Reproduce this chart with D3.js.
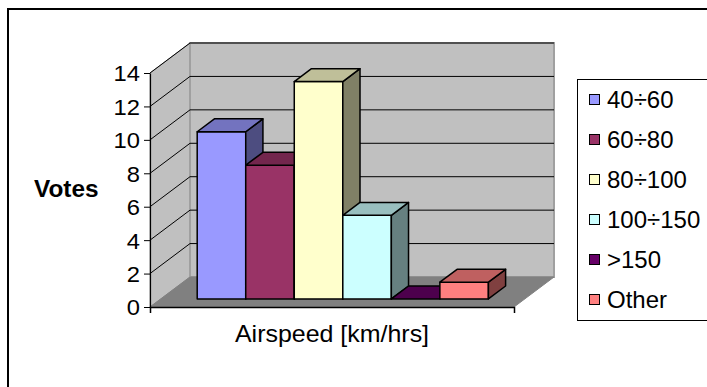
<!DOCTYPE html>
<html>
<head>
<meta charset="utf-8">
<script src="https://cdn.jsdelivr.net/npm/d3@7/dist/d3.min.js"></script>
<style>
  html, body { margin: 0; padding: 0; background: #fff; }
  svg { display: block; }
  text { font-family: "Liberation Sans", Arial, sans-serif; fill: #000; }
</style>
</head>
<body>
<div id="chart"></div>
<script>
// Airspeed poll: votes per speed range
const categories = ["Airspeed [km/hrs]"];
const seriesNames = ["40÷60", "60÷80", "80÷100", "100÷150", ">150", "Other"];
const seriesValues = [10, 8, 13, 5, 0, 1];
const seriesColors = ["#9999FF", "#993366", "#FFFFCC", "#CCFFFF", "#660066", "#FF8080"];
const yTicks = [0, 2, 4, 6, 8, 10, 12, 14];
const yTitle = "Votes";

const W = 707, H = 387;
const DX = 40, DY = -30;       // full depth of the 3D box
const T_FRONT = 0.27, T_BACK = 0.70; // bar slab within the depth

const svg = d3.select("#chart").append("svg")
  .attr("width", W).attr("height", H);

svg.append("rect").attr("width", W).attr("height", H).attr("fill", "#fff");

// chart area frame
svg.append("rect")
  .attr("x", 8).attr("y", 9).attr("width", 900).attr("height", 600)
  .attr("fill", "none").attr("stroke", "#000").attr("stroke-width", 2);

// scales on the front plane
const x0 = 150, x1 = 514;
const y = d3.scaleLinear().domain([0, 14]).range([307, 73]);
const xCat = d3.scaleBand().domain(categories).range([x0, x1]);
const xBar = d3.scaleBand().domain(seriesNames).range([x0, x1])
  .paddingInner(0).paddingOuter(0.75);

// project a front-plane point back into depth t (0 = front, 1 = back wall)
const P = (px, py, t) => [px + DX * t, py + DY * t];
const poly = pts => "M" + pts.map(p => p.join(",")).join("L") + "Z";

const y0 = y(0), yTop = y(14);

// walls and floor
const walls = svg.append("g");
walls.append("path")
  .attr("d", poly([P(x0, y0, 0), P(x0, yTop, 0), P(x0, yTop, 1), P(x0, y0, 1)]))
  .attr("fill", "#C0C0C0").attr("stroke", "#909090").attr("stroke-width", 1);
walls.append("path")
  .attr("d", poly([P(x0, yTop, 1), P(x1, yTop, 1), P(x1, y0, 1), P(x0, y0, 1)]))
  .attr("fill", "#C0C0C0").attr("stroke", "#A0A0A0").attr("stroke-width", 2);
walls.append("path")
  .attr("d", poly([P(x0, y0, 0), P(x1, y0, 0), P(x1, y0, 1), P(x0, y0, 1)]))
  .attr("fill", "#808080").attr("stroke", "#808080").attr("stroke-width", 1);

// gridlines on side and back walls
const grid = svg.append("g").attr("stroke", "#000").attr("stroke-width", 1).attr("fill", "none");
yTicks.filter(v => v > 0).forEach(v => {
  const a = P(x0, y(v), 0), b = P(x0, y(v), 1), c = P(x1, y(v), 1);
  grid.append("path").attr("d", "M" + a + "L" + b + "L" + c);
});

// value axis
const TICK_SX = 1.08;
const yAxis = svg.append("g")
  .attr("transform", `translate(${x0},0)`)
  .call(d3.axisLeft(y).tickValues(yTicks).tickSize(6).tickSizeOuter(0).tickPadding(4));
yAxis.select(".domain").attr("stroke", "#000").attr("stroke-width", 1.2);
yAxis.selectAll(".tick line").attr("stroke", "#000");
yAxis.selectAll(".tick text")
  .attr("x", -10 / TICK_SX).attr("dy", "0.36em")
  .attr("transform", `scale(${TICK_SX},1)`)
  .style("font-family", "'Liberation Sans', Arial, sans-serif")
  .style("font-size", "22px").attr("fill", "#000");

// category axis with boundary ticks
const xAxis = svg.append("g")
  .attr("transform", `translate(0,${y0})`)
  .call(d3.axisBottom(xCat).tickSize(0).tickSizeOuter(6));
xAxis.select(".domain").attr("stroke", "#000").attr("stroke-width", 1.5);
xAxis.selectAll(".tick text")
  .attr("x", 0).attr("y", 0).attr("dy", 0)
  .attr("text-anchor", "middle")
  .attr("transform", "translate(0,35) scale(1.04,1)")
  .style("font-family", "'Liberation Sans', Arial, sans-serif")
  .style("font-size", "24px").attr("fill", "#000");

// bars: front, top and right side faces, drawn left to right
const shade = (c, k) => {
  const r = d3.rgb(c);
  return d3.rgb(r.r * k, r.g * k, r.b * k).formatHex();
};
const bars = svg.append("g")
  .attr("stroke", "#000").attr("stroke-width", 1.5).attr("stroke-linejoin", "round");
seriesNames.forEach((name, i) => {
  const v = seriesValues[i], col = seriesColors[i];
  const xl = xBar(name), xr = xl + xBar.bandwidth();
  const yb = y(0), yt = y(v);
  const g = bars.append("g");
  if (v > 0) {
    g.append("path")
      .attr("d", poly([P(xl, yb, T_FRONT), P(xr, yb, T_FRONT), P(xr, yt, T_FRONT), P(xl, yt, T_FRONT)]))
      .attr("fill", col);
    g.append("path")
      .attr("d", poly([P(xr, yb, T_FRONT), P(xr, yt, T_FRONT), P(xr, yt, T_BACK), P(xr, yb, T_BACK)]))
      .attr("fill", shade(col, 0.5));
  }
  g.append("path")
    .attr("d", poly([P(xl, yt, T_FRONT), P(xr, yt, T_FRONT), P(xr, yt, T_BACK), P(xl, yt, T_BACK)]))
    .attr("fill", shade(col, 0.75));
});

// value axis title
svg.append("text")
  .attr("transform", "translate(34,197) scale(1.06,1)")
  .style("font-size", "23px").style("font-weight", "bold")
  .text(yTitle);

// legend
const legend = svg.append("g");
legend.append("rect")
  .attr("x", 577.5).attr("y", 79.5).attr("width", 200).attr("height", 241)
  .attr("fill", "#fff").attr("stroke", "#000").attr("stroke-width", 1);
seriesNames.forEach((name, i) => {
  const cy = 99.5 + i * 40;
  legend.append("rect")
    .attr("x", 589.5).attr("y", cy - 5).attr("width", 10).attr("height", 10)
    .attr("fill", seriesColors[i]).attr("stroke", "#000").attr("stroke-width", 1);
  legend.append("text")
    .attr("transform", `translate(607,${cy + 8.5})`)
    .style("font-size", "24px")
    .text(name);
});
</script>
</body>
</html>
